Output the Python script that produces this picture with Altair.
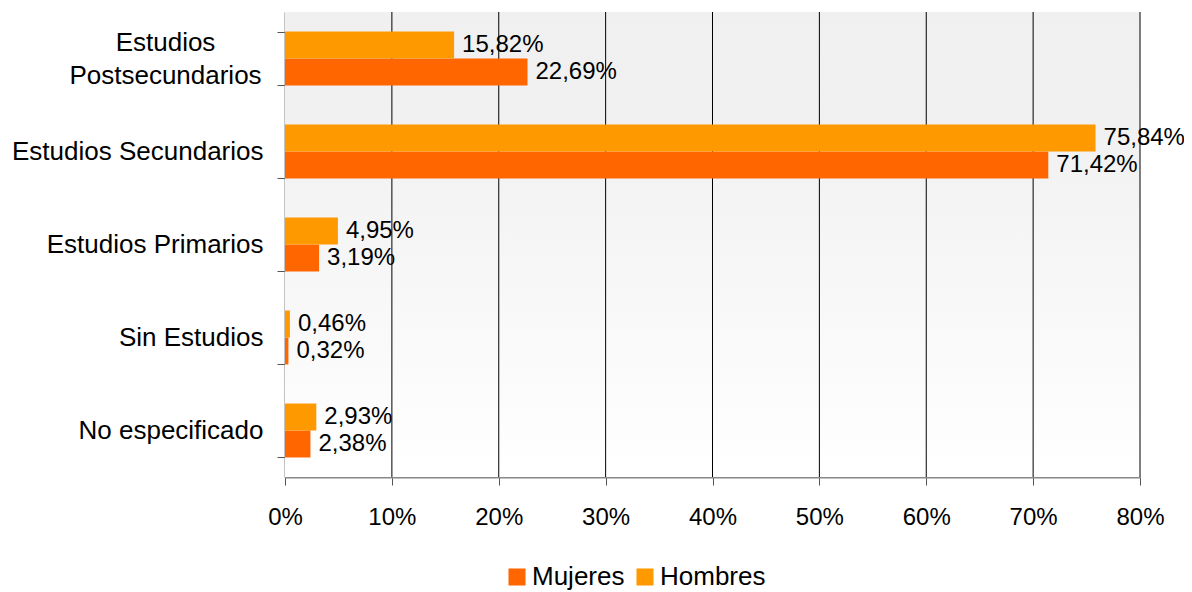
import altair as alt
import pandas as pd

categories = ["Estudios Postsecundarios", "Estudios Secundarios", "Estudios Primarios",
              "Sin Estudios", "No especificado"]
mujeres = [22.69, 71.42, 3.19, 0.32, 2.38]
hombres = [15.82, 75.84, 4.95, 0.46, 2.93]
series = ["Mujeres", "Hombres"]
colors = ["#FF6600", "#FF9900"]
x_ticks = [0, 10, 20, 30, 40, 50, 60, 70, 80]

rows = []
for c, m, h in zip(categories, mujeres, hombres):
    rows.append({"cat": c, "serie": "Mujeres", "v": m})
    rows.append({"cat": c, "serie": "Hombres", "v": h})
df = pd.DataFrame(rows)
df["lbl"] = df["v"].map(lambda v: f"{v:.2f}".replace(".", ",") + "%")
ticks_df = pd.DataFrame({"v": x_ticks})

FONT = "Liberation Sans"
W, H = 855, 465
LEFT = 277
TWO = "datum.value == 'Estudios Postsecundarios'"

y_enc = alt.Y(
    "cat:N", sort=categories, title=None,
    scale=alt.Scale(paddingInner=0.42, paddingOuter=0.21),
    axis=alt.Axis(
        tickBand="extent", tickSize=8, tickColor="#555555", domainColor="#888888",
        domainWidth=2, labelFontSize=26, labelFont=FONT, labelColor="#000000",
        labelLimit=400, labelLineHeight=33,
        labelExpr="datum.value == 'Estudios Postsecundarios' ? ['Estudios', 'Postsecundarios'] : datum.value",
        labelAlign={"condition": {"test": TWO, "value": "center"}, "value": "right"},
        labelPadding={"condition": {"test": TWO, "value": 112}, "value": 14},
        labelOffset={"condition": {"test": TWO, "value": -16}, "value": 0},
        grid=False,
    ),
)
x_enc = alt.X(
    "v:Q", title=None,
    scale=alt.Scale(domain=[0, 80], nice=False),
    axis=alt.Axis(
        values=x_ticks, labelExpr="datum.value + '%'", tickSize=8, tickColor="#555555",
        domainColor="#888888", domainWidth=2, labelFontSize=24, labelFont=FONT,
        labelColor="#000000", labelPadding=20, grid=False, labelFlush=False,
    ),
)
yoff = alt.YOffset("serie:N", sort=["Hombres", "Mujeres"], scale=alt.Scale(paddingInner=0, paddingOuter=0))

bg = alt.Chart(pd.DataFrame({"a": [0]})).mark_rect(
    fill=alt.LinearGradient(
        gradient="linear", x1=0, y1=0, x2=0, y2=1,
        stops=[alt.GradientStop(offset=0, color="#f0f0f0"),
               alt.GradientStop(offset=0.25, color="#f1f1f1"),
               alt.GradientStop(offset=1, color="#ffffff")],
    )
).encode(x=alt.value(0), x2=alt.value(W), y=alt.value(0), y2=alt.value(H))

grid = alt.Chart(ticks_df).transform_filter("datum.v > 0").mark_rule(
    color="#000000", strokeWidth=1
).encode(x=alt.X("v:Q", scale=alt.Scale(domain=[0, 80], nice=False)),
         y=alt.value(0), y2=alt.value(H))

base = alt.Chart(df)
bars = base.mark_bar(size=27).encode(
    y=y_enc, x=x_enc, yOffset=yoff,
    color=alt.Color(
        "serie:N", title=None,
        scale=alt.Scale(domain=series, range=colors),
        legend=alt.Legend(
            orient="none", legendX=508 - 12 - LEFT, legendY=552, direction="horizontal",
            symbolType="square", symbolSize=290, symbolStrokeWidth=0,
            labelFontSize=26, labelFont=FONT, labelColor="#000000",
            columnPadding=7, labelOffset=2, padding=0,
        ),
    ),
)
texts = base.mark_text(align="left", baseline="middle", dx=8, fontSize=24, font=FONT,
                       color="#000000").encode(
    y=alt.Y("cat:N", sort=categories), x="v:Q", yOffset=yoff, text="lbl:N"
)

chart = alt.layer(bg, grid, bars, texts).properties(
    width=W, height=H,
    autosize=alt.AutoSizeParams(type="none"),
    padding={"left": LEFT, "top": 4, "right": 1176 - LEFT - W, "bottom": 115},
).configure_view(stroke=None)

chart.save("out.html", embed_options={"renderer": "svg", "actions": False})
